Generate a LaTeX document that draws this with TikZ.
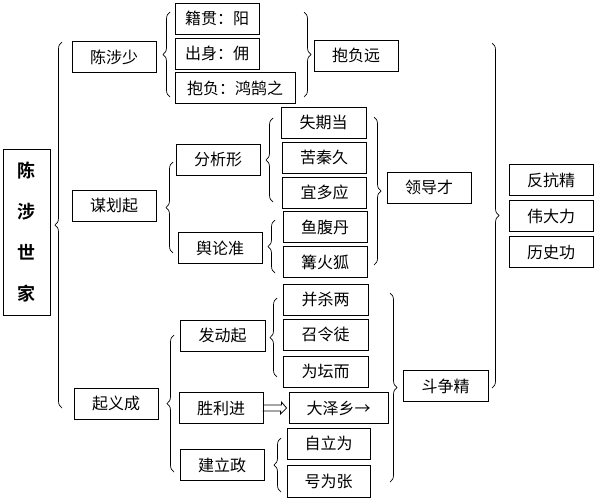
\documentclass[tikz,border=0pt]{standalone}
\usepackage{fontspec}
\newfontfamily\cjk{Noto Sans CJK SC}[BoldFont={Noto Sans CJK SC Bold}]
\usetikzlibrary{decorations.pathreplacing,calc}

\begin{document}
\begin{tikzpicture}[x=1pt, y=-1pt, every node/.style={font=\cjk\fontsize{16}{19}\selectfont}]
    \tikzstyle{box}=[draw, line width=0.8pt, minimum width=84pt, minimum height=31pt, inner sep=0pt]
    \tikzstyle{curly}=[decorate, decoration={brace, amplitude=7pt}, line width=0.7pt]
    \useasboundingbox (0,0) rectangle (596,501);
    % title
    \node[box, minimum width=47pt, minimum height=166pt, align=center,
          font=\cjk\bfseries\fontsize{18}{41}\selectfont] (root) at (26.5,232) {陈\\涉\\世\\家};
    % first level
    \node[box] (shao) at (114,57) {陈涉少};
    \node[box] (mouhua) at (114,205.5) {谋划起};
    \node[box] (qiyi) at (116,403.5) {起义成};
    % youth
    \node[box] (jiguan) at (217,18.5) {籍贯：阳};
    \node[box] (chushen) at (217,53.5) {出身：佣};
    \node[box, minimum width=120pt] (baofu) at (235,88) {抱负：鸿鹄之};
    \node[box] (yuan) at (356,55.5) {抱负远};
    % planning
    \node[box] (fenxi) at (218,159.5) {分析形};
    \node[box] (yulun) at (220,248) {舆论准};
    \node[box, minimum width=85pt] (shiqi) at (323.5,122.5) {失期当};
    \node[box] (kuqin) at (324,157.5) {苦秦久};
    \node[box] (yiduo) at (324.5,192.5) {宜多应};
    \node[box] (yufu) at (325,227) {鱼腹丹};
    \node[box] (gouhuo) at (325,262) {篝火狐};
    \node[box] (lingdao) at (429,187.5) {领导才};
    % uprising
    \node[box, minimum width=85pt] (fadong) at (222.5,335.5) {发动起};
    \node[box] (shengli) at (221,408) {胜利进};
    \node[box] (jianli) at (222,465) {建立政};
    \node[box, minimum width=85pt] (bingsha) at (325.5,299.5) {并杀两};
    \node[box, minimum width=85pt] (zhaoling) at (325.5,334.5) {召令徒};
    \node[box, minimum width=85pt] (weitan) at (325.5,371.5) {为坛而};
    \node[box, minimum width=99pt] (daze) at (338.5,408) {大泽乡→};
    \node[box, minimum width=83pt] (zili) at (328.5,443.5) {自立为};
    \node[box, minimum width=83pt, minimum height=32pt] (haowei) at (328.5,481) {号为张};
    \node[box, minimum width=85pt] (douzheng) at (445.5,386) {斗争精};
    % conclusion
    \node[box] (fankang) at (551,180) {反抗精};
    \node[box] (weida) at (551,216) {伟大力};
    \node[box] (lishi) at (551,252) {历史功};
    % braces
    \draw[curly] (62,408) -- (62,42);
    \draw[curly] (170,97) -- (170,12);
    \draw[curly] (304,12) -- (304,97);
    \draw[curly] (173,253) -- (173,162);
    \draw[curly] (273,202) -- (273,118);
    \draw[curly] (275,273) -- (275,220);
    \draw[curly] (374,117) -- (374,265);
    \draw[curly] (277,377) -- (277,298);
    \draw[curly] (281,492) -- (281,438);
    \draw[curly] (174,472) -- (174,335);
    \draw[curly] (390,293) -- (390,482);
    \draw[curly] (492,43) -- (492,388);
    % hollow arrow
    \draw[line width=0.8pt] ($(shengli.east)+(0,-3)$) -- ++(18,0) -- ++(0,-3) -- ($(daze.west)+(-2,0)$)
        -- ++(-6,6) -- ++(0,-3) -- ++(-18,0);
\end{tikzpicture}
\end{document}
